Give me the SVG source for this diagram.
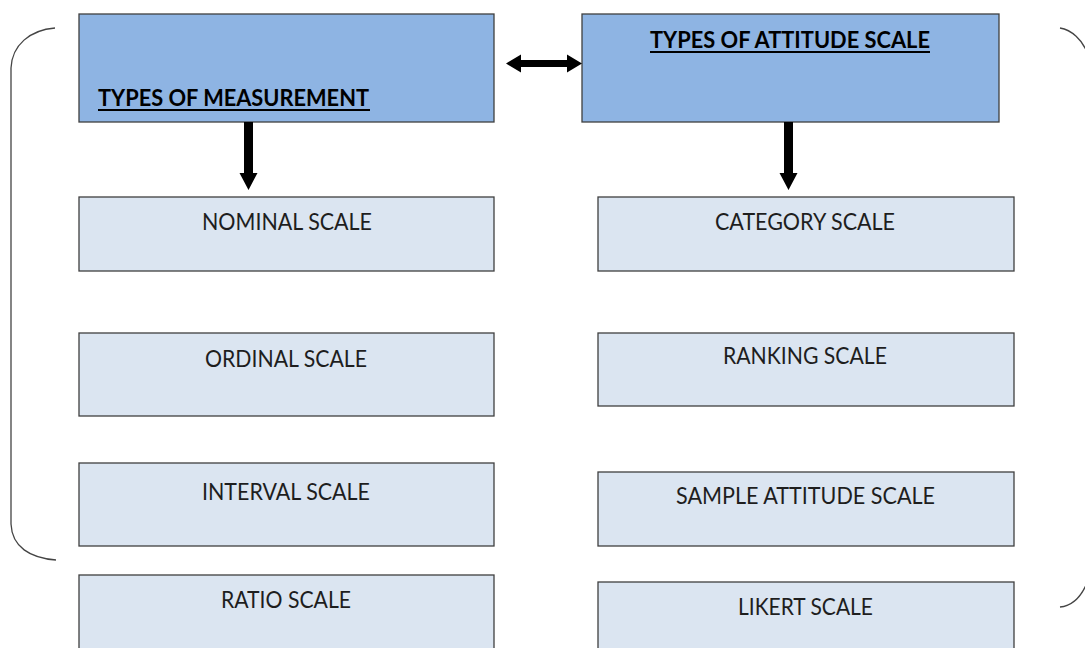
<svg xmlns="http://www.w3.org/2000/svg" width="1085" height="648" viewBox="0 0 1085 648">
<style>
.hdr{fill:#8EB4E3;stroke:#3F3F3F;stroke-width:1.3}
.box{fill:#DBE5F1;stroke:#3F3F3F;stroke-width:1.3}
.t{font-family:Lato,"Liberation Sans",sans-serif;font-size:23px;fill:#1E1E1E}
.b{font-family:Lato,"Liberation Sans",sans-serif;font-size:22px;font-weight:bold;fill:#000}
.ul{stroke:#000;stroke-width:2}
.br{fill:none;stroke:#444;stroke-width:1.3}
.arr{fill:#000}
</style>
<rect width="1085" height="648" fill="#fff"/>
<g id="brackets">
<path class="br" d="M55,28 C30,30 12,45 11,68 L11,524 C12,547 30,558 56,560"/>
<path class="br" d="M1060,28 C1072,30 1082,40 1087,52"/>
<path class="br" d="M1060,607 C1072,606 1081,597 1087,583"/>
</g>
<g id="n-measurement">
<rect class="hdr" x="79" y="14" width="415" height="108"/>
<text class="b" x="98" y="106" textLength="271" lengthAdjust="spacingAndGlyphs">TYPES OF MEASUREMENT</text>
<line class="ul" x1="98" y1="110" x2="370" y2="110"/>
</g>
<g id="n-attitude">
<rect class="hdr" x="582" y="14" width="417" height="108"/>
<text class="b" x="650" y="48" textLength="280" lengthAdjust="spacingAndGlyphs">TYPES OF ATTITUDE SCALE</text>
<line class="ul" x1="650" y1="52" x2="930" y2="52"/>
</g>
<g id="n-nominal">
<rect class="box" x="79" y="197" width="415" height="74"/>
<text class="t" x="202" y="230" textLength="170" lengthAdjust="spacingAndGlyphs">NOMINAL SCALE</text>
</g>
<g id="n-ordinal">
<rect class="box" x="79" y="333" width="415" height="83"/>
<text class="t" x="205" y="367" textLength="162" lengthAdjust="spacingAndGlyphs">ORDINAL SCALE</text>
</g>
<g id="n-interval">
<rect class="box" x="79" y="463" width="415" height="83"/>
<text class="t" x="202" y="500" textLength="168" lengthAdjust="spacingAndGlyphs">INTERVAL SCALE</text>
</g>
<g id="n-ratio">
<rect class="box" x="79" y="575" width="415" height="90"/>
<text class="t" x="221" y="608" textLength="130" lengthAdjust="spacingAndGlyphs">RATIO SCALE</text>
</g>
<g id="n-category">
<rect class="box" x="598" y="197" width="416" height="74"/>
<text class="t" x="715" y="230" textLength="180" lengthAdjust="spacingAndGlyphs">CATEGORY SCALE</text>
</g>
<g id="n-ranking">
<rect class="box" x="598" y="333" width="416" height="73"/>
<text class="t" x="723" y="364" textLength="164" lengthAdjust="spacingAndGlyphs">RANKING SCALE</text>
</g>
<g id="n-sample">
<rect class="box" x="598" y="472" width="416" height="74"/>
<text class="t" x="676" y="504" textLength="259" lengthAdjust="spacingAndGlyphs">SAMPLE ATTITUDE SCALE</text>
</g>
<g id="n-likert">
<rect class="box" x="598" y="582" width="416" height="83"/>
<text class="t" x="738" y="615" textLength="135" lengthAdjust="spacingAndGlyphs">LIKERT SCALE</text>
</g>
<g id="connectors">
<polygon class="arr" points="506,63.5 521,54.5 521,60 567,60 567,54.5 582,63.5 567,72.5 567,67 521,67 521,72.5"/>
<polygon class="arr" points="244,122 253,122 253,173 257.5,173 248.5,190 239.5,173 244,173"/>
<polygon class="arr" points="784,122 793,122 793,173 797.5,173 788.5,190 779.5,173 784,173"/>
</g>
</svg>
